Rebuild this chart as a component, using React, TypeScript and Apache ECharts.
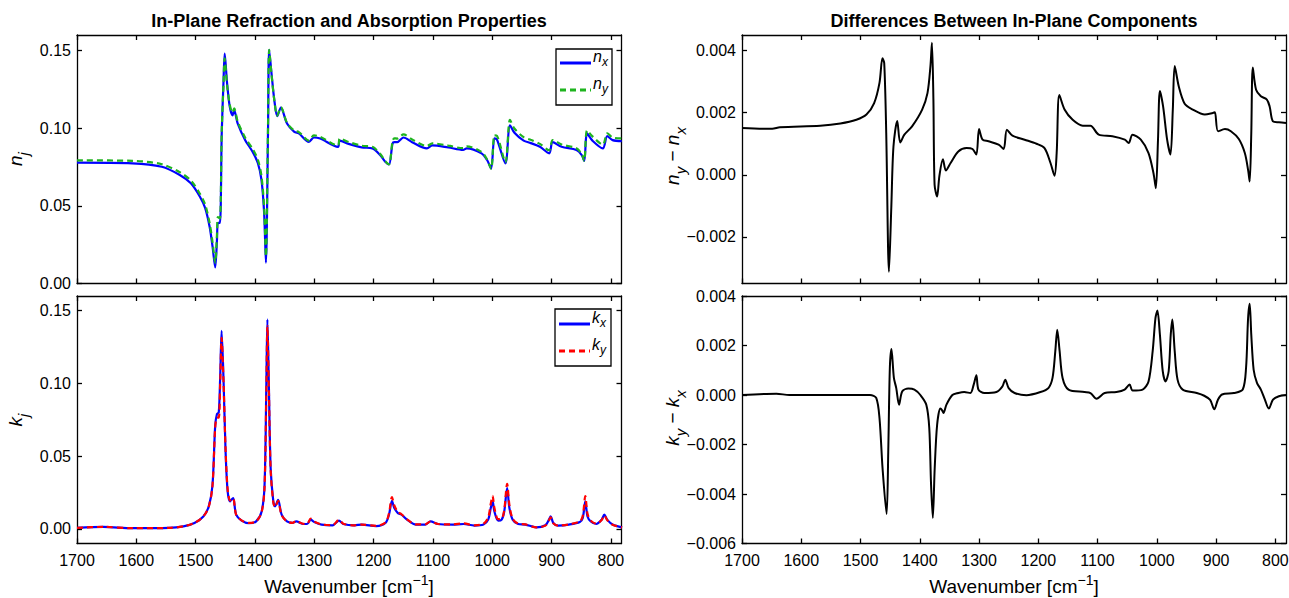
import React, { useEffect, useRef } from "react";
import * as echarts from "echarts";

const FONT = '"Liberation Sans", Arial, Helvetica, sans-serif';

// ---- Top-left: refractive index n_x, n_y
const nWave = [1700, 1606.5, 1557, 1526.7, 1508, 1493, 1484, 1476.5, 1471.5, 1467, 1464, 1462.5, 1459, 1456, 1453, 1451, 1447, 1442.4, 1437.8, 1435, 1429, 1416.4, 1404, 1395, 1389, 1384.5, 1381.5, 1378, 1376, 1372, 1367.3, 1362.4, 1356.3, 1345.9, 1333.6, 1326, 1309, 1300.6, 1290, 1260, 1257, 1242, 1220, 1202, 1189, 1180.3, 1174, 1168, 1165, 1160, 1149.6, 1135, 1110, 1101, 1074, 1049, 1043, 1018, 1008.6, 1001.8, 996.3, 992, 977.8, 970, 962.5, 947, 935, 919.5, 904, 898, 883, 858, 849, 844.8, 840, 831, 813.5, 806, 797, 781.6];
const nxVals = [0.0778, 0.0774, 0.0752, 0.0699, 0.0645, 0.056, 0.0487, 0.0367, 0.0239, 0.0103, 0.0282, 0.039, 0.039, 0.0966, 0.13, 0.148, 0.129, 0.1137, 0.1083, 0.1115, 0.103, 0.0923, 0.0848, 0.0774, 0.0667, 0.0455, 0.0134, 0.0966, 0.1504, 0.135, 0.118, 0.1077, 0.1133, 0.103, 0.0976, 0.0967, 0.0912, 0.094, 0.0933, 0.088, 0.092, 0.0899, 0.0876, 0.087, 0.0827, 0.0784, 0.0767, 0.0902, 0.091, 0.091, 0.094, 0.091, 0.087, 0.0889, 0.0876, 0.086, 0.087, 0.0838, 0.0795, 0.0742, 0.0934, 0.0927, 0.0774, 0.1019, 0.097, 0.092, 0.0904, 0.088, 0.0838, 0.091, 0.088, 0.086, 0.0827, 0.079, 0.0966, 0.092, 0.087, 0.0949, 0.0923, 0.0917];
const nyVals = [0.0793, 0.079, 0.0768, 0.0716, 0.0663, 0.0579, 0.0509, 0.0391, 0.0266, 0.0135, 0.0319, 0.0427, 0.042, 0.0978, 0.128, 0.145, 0.1281, 0.1149, 0.11, 0.1127, 0.1042, 0.0938, 0.0867, 0.0796, 0.0692, 0.0485, 0.0174, 0.1001, 0.1504, 0.1344, 0.1179, 0.1081, 0.1135, 0.1034, 0.0984, 0.0975, 0.092, 0.0954, 0.0944, 0.0889, 0.0933, 0.0911, 0.0887, 0.088, 0.0835, 0.0788, 0.0767, 0.0917, 0.0935, 0.0933, 0.096, 0.0927, 0.0885, 0.0902, 0.0888, 0.0871, 0.0883, 0.0847, 0.0798, 0.0738, 0.0954, 0.0951, 0.0781, 0.1053, 0.0998, 0.0942, 0.0925, 0.0899, 0.0858, 0.0924, 0.0895, 0.0871, 0.0833, 0.0789, 0.0986, 0.0947, 0.0894, 0.0967, 0.094, 0.0934];

// ---- Bottom-left: absorption index k_x, k_y
const kWave = [1700, 1655.6, 1606.5, 1545, 1520.6, 1502, 1487, 1477.8, 1471.6, 1467, 1464, 1461, 1458.7, 1456.2, 1453, 1449.5, 1446, 1442, 1439.8, 1436.6, 1431.7, 1422.5, 1410.2, 1398, 1388.7, 1383.8, 1380.8, 1379, 1376.5, 1373.5, 1369, 1366, 1361, 1355, 1346, 1336.6, 1330.5, 1318, 1312, 1306, 1300, 1287.6, 1269, 1258.4, 1251, 1232.3, 1220, 1195.6, 1180, 1174, 1169, 1165, 1159, 1153, 1143.6, 1128.3, 1113, 1104, 1091.4, 1067, 1048.4, 1030, 1014.7, 1006.7, 1002.4, 999.4, 996.3, 990, 984, 979.7, 974.8, 971, 965.5, 956.3, 944, 925.7, 910.4, 904.3, 901.3, 897, 889, 870.6, 852.2, 847.3, 843, 839.3, 833.8, 824.6, 815.4, 811, 806.2, 797, 781];
const kxVals = [0.0007, 0.0014, 0.0005, 0.0007, 0.0018, 0.0041, 0.0086, 0.0155, 0.03, 0.071, 0.079, 0.08, 0.103, 0.136, 0.103, 0.053, 0.0257, 0.0189, 0.02, 0.0211, 0.0098, 0.0057, 0.0039, 0.0052, 0.012, 0.03, 0.098, 0.1439, 0.098, 0.0416, 0.0189, 0.0155, 0.02, 0.0098, 0.0052, 0.0041, 0.0052, 0.0034, 0.0034, 0.0064, 0.0048, 0.003, 0.0025, 0.0057, 0.0034, 0.0025, 0.003, 0.002, 0.0041, 0.0098, 0.0193, 0.0143, 0.0109, 0.0098, 0.0064, 0.003, 0.003, 0.0052, 0.0034, 0.003, 0.0034, 0.0023, 0.003, 0.0064, 0.0143, 0.0193, 0.012, 0.0057, 0.0064, 0.012, 0.028, 0.0143, 0.0064, 0.0034, 0.003, 0.0011, 0.0025, 0.0064, 0.0086, 0.0041, 0.0023, 0.003, 0.0048, 0.0075, 0.0189, 0.0086, 0.0052, 0.0034, 0.0064, 0.0098, 0.0064, 0.003, 0.0011];
const kyVals = [0.0007, 0.0014, 0.0005, 0.0007, 0.0018, 0.0041, 0.0086, 0.0154, 0.0295, 0.0698, 0.0765, 0.0765, 0.0985, 0.1312, 0.101, 0.0544, 0.0272, 0.0195, 0.0203, 0.0209, 0.0097, 0.0059, 0.0041, 0.0052, 0.0116, 0.0287, 0.0944, 0.1394, 0.0955, 0.0404, 0.0181, 0.015, 0.0193, 0.0094, 0.0052, 0.0042, 0.0053, 0.0035, 0.0035, 0.0071, 0.005, 0.0031, 0.0026, 0.0062, 0.0036, 0.0025, 0.003, 0.0021, 0.0044, 0.0107, 0.0219, 0.0161, 0.0116, 0.0101, 0.0066, 0.0031, 0.0031, 0.0051, 0.0034, 0.0031, 0.0038, 0.0025, 0.0035, 0.0079, 0.0173, 0.0227, 0.0145, 0.0067, 0.007, 0.013, 0.031, 0.0165, 0.007, 0.0036, 0.0031, 0.0011, 0.0023, 0.0059, 0.008, 0.0039, 0.0023, 0.0031, 0.0052, 0.009, 0.0226, 0.0104, 0.0057, 0.0036, 0.0061, 0.0093, 0.0062, 0.0029, 0.0011];

// ---- Top-right: n_y - n_x
const dnWave = [1700, 1649, 1636, 1568, 1534, 1507, 1490, 1477, 1468, 1463, 1460, 1456.6, 1452, 1448, 1444.4, 1438, 1433, 1426, 1413, 1396, 1387, 1382, 1379.5, 1377, 1375, 1370.7, 1367, 1361, 1356, 1348, 1335, 1321, 1311, 1304.5, 1300, 1294, 1284, 1267, 1258.5, 1253, 1243.6, 1223, 1203, 1189.5, 1179.4, 1172.6, 1169, 1164.5, 1155.7, 1142, 1125, 1112, 1098, 1075, 1054, 1047.5, 1041, 1027, 1014, 1005.6, 1001.6, 998, 994.8, 989.4, 982.6, 977, 973, 969.8, 963, 953, 939.4, 919, 905.5, 902, 896.7, 885, 875, 861.6, 851.5, 846, 843.3, 840.6, 838, 832.5, 824.4, 814.3, 809.6, 804, 794, 782];
const dnVals = [0.00151, 0.00148, 0.00153, 0.00158, 0.00165, 0.00177, 0.00194, 0.00231, 0.00296, 0.00375, 0.0036, 0.00134, -0.00312, -0.00102, 0.00091, 0.00173, 0.00104, 0.00129, 0.00156, 0.0021, 0.00263, 0.0035, 0.00425, 0.00242, -0.00032, -0.0007, -0.00005, 0.0005, 0.00014, 0.00038, 0.00075, 0.00086, 0.00083, 0.00065, 0.00147, 0.00113, 0.00108, 0.00097, 0.00083, 0.00145, 0.00126, 0.00113, 0.001, 0.00086, 0.00038, -0.00003, 0.0007, 0.00257, 0.0021, 0.00177, 0.00158, 0.00158, 0.00129, 0.00124, 0.00113, 0.00102, 0.00129, 0.00113, 0.0007, 0.00005, -0.00043, 0.00113, 0.0027, 0.0022, 0.00113, 0.00065, 0.0021, 0.0035, 0.00285, 0.00229, 0.0021, 0.00194, 0.00199, 0.00201, 0.0014, 0.00147, 0.0014, 0.00115, 0.0007, 0.00016, -0.00022, 0.00134, 0.00345, 0.00274, 0.00253, 0.00242, 0.0022, 0.00172, 0.00169, 0.00167];

// ---- Bottom-right: k_y - k_x
const dkWave = [1700, 1642, 1620, 1484, 1473.5, 1468, 1462.7, 1456, 1453.2, 1450.5, 1447.8, 1443.7, 1439.7, 1435, 1429.5, 1419.4, 1409, 1399, 1389, 1384, 1381, 1378, 1374.8, 1370.7, 1365.3, 1362, 1360, 1355, 1345, 1335, 1325, 1314.6, 1309, 1304.5, 1301, 1291, 1270.7, 1260.5, 1255.8, 1250, 1240, 1220, 1196.3, 1183, 1176, 1171.3, 1168, 1164, 1159, 1149, 1122, 1112, 1101.6, 1088, 1068, 1054.3, 1046, 1040.8, 1024, 1014, 1007, 1002.3, 999, 994.8, 990, 985.3, 980, 976.5, 973.8, 969.8, 965, 956.3, 932.6, 920, 910, 903, 897, 890, 870, 855, 849.4, 846, 843.3, 840.6, 836.6, 831, 824.4, 817.6, 811, 804, 794, 782];
const dkVals = [0, 0.00005, 0, 0, -0.00012, -0.00093, -0.003, -0.00481, -0.0023, 0.0011, 0.00186, 0.00069, 0.00028, -0.00039, 0.00015, 0.00026, 0.00022, 0, -0.00039, -0.00133, -0.0036, -0.00497, -0.00295, -0.0012, -0.00055, -0.00063, -0.00073, -0.00039, 0, 0.00008, 0.00012, 0.00008, 0.00042, 0.0008, 0.00022, 0.00008, 0.00012, 0.00035, 0.00062, 0.00028, 0.00008, -0.00001, 0.00012, 0.00028, 0.00069, 0.00177, 0.00264, 0.00177, 0.00069, 0.00022, 0.00012, 0.00008, -0.00015, 0.00008, 0.00012, 0.00022, 0.00042, 0.00018, 0.00022, 0.00055, 0.00177, 0.00311, 0.00341, 0.00244, 0.00096, 0.00055, 0.00096, 0.00244, 0.00305, 0.00177, 0.00062, 0.00022, 0.00008, -0.00003, -0.0002, -0.00058, -0.0002, 0.00002, 0.00008, 0.00022, 0.0011, 0.0031, 0.00369, 0.00244, 0.00102, 0.00049, 0.00022, -0.00019, -0.00055, -0.00019, -0.00005, 0];

// ---- Tick values
const xTicks = [1700, 1600, 1500, 1400, 1300, 1200, 1100, 1000, 900, 800];
const nTicks = [0, 0.05, 0.1, 0.15];
const kTicks = [0, 0.05, 0.1, 0.15];
const dnTicks = [-0.002, 0, 0.002, 0.004];
const dkTicks = [-0.006, -0.004, -0.002, 0, 0.002, 0.004];

const X_MIN = 782;
const X_MAX = 1700;

const zip = (xs: number[], ys: number[]) => xs.map((x, i) => [x, ys[i]]);

const lineCol = "#000";
const axW = 1.3;
const BLUE = "#0000ff";
const GREEN = "#1fb41f";
const RED = "#ff0000";

function xAxis(grid: number, pos: "bottom" | "top", labels: boolean) {
  return {
    type: "value",
    gridIndex: grid,
    position: pos,
    min: X_MIN,
    max: X_MAX,
    inverse: true,
    axisLine: { show: true, onZero: false, lineStyle: { color: lineCol, width: axW } },
    axisTick: { show: true, inside: true, length: 5, customValues: xTicks, lineStyle: { color: lineCol, width: axW } },
    axisLabel: {
      show: labels,
      customValues: xTicks,
      color: "#000",
      fontSize: 16,
      fontFamily: FONT,
      margin: 9,
      formatter: (v: number) => String(v),
    },
    splitLine: { show: false },
  };
}

function yAxis(grid: number, pos: "left" | "right", labels: boolean, min: number, max: number, ticks: number[], dec: number) {
  return {
    type: "value",
    gridIndex: grid,
    position: pos,
    min,
    max,
    axisLine: { show: true, onZero: false, lineStyle: { color: lineCol, width: axW } },
    axisTick: { show: true, inside: true, length: 5, customValues: ticks, lineStyle: { color: lineCol, width: axW } },
    axisLabel: {
      show: labels,
      customValues: ticks,
      color: "#000",
      fontSize: 16,
      fontFamily: FONT,
      margin: 6,
      formatter: (v: number) => (v < -1e-12 ? "\u2212" : "") + Math.abs(v).toFixed(dec),
    },
    splitLine: { show: false },
  };
}

const richSub = {
  i: { fontSize: 19, fontStyle: "italic", fontFamily: FONT, color: "#000", lineHeight: 26, verticalAlign: "top" },
  s: { fontSize: 15, fontStyle: "italic", fontFamily: FONT, color: "#000", lineHeight: 26, verticalAlign: "top", padding: [10, 0, 0, 0] },
  m: { fontSize: 19, fontFamily: FONT, color: "#000", lineHeight: 26, verticalAlign: "top" },
};

const richSup = {
  a: { fontSize: 19, fontFamily: FONT, color: "#000", lineHeight: 22, verticalAlign: "bottom" },
  p: { fontSize: 14, fontFamily: FONT, color: "#000", lineHeight: 22, verticalAlign: "bottom", padding: [0, 0, 9, 0] },
};

const legendRich = {
  i: { fontSize: 16, fontStyle: "italic", fontFamily: FONT, color: "#000", lineHeight: 20, verticalAlign: "top" },
  s: { fontSize: 12, fontStyle: "italic", fontFamily: FONT, color: "#000", lineHeight: 20, verticalAlign: "top", padding: [8, 0, 0, 0] },
};

// Legend boxes drawn as graphics (line samples + labels)
function legendBox(x: number, y: number, w: number, h: number, items: { label: string; color: string; dash: number[] | null; dy: number }[]) {
  const els: any[] = [
    { type: "rect", z: 100, shape: { x, y, width: w, height: h }, style: { fill: "#fff", stroke: "#000", lineWidth: 1.3 } },
  ];
  items.forEach((it) => {
    els.push({
      type: "line",
      z: 101,
      shape: { x1: x + 4, y1: y + it.dy, x2: x + 35, y2: y + it.dy },
      style: { stroke: it.color, lineWidth: 3, lineDash: it.dash || undefined },
    });
    els.push({
      type: "text",
      z: 101,
      x: x + 37,
      y: y + it.dy - 5,
      style: { text: it.label, rich: legendRich, align: "left", verticalAlign: "middle" },
    });
  });
  return els;
}

export default function App() {
  const ref = useRef<HTMLDivElement>(null);
  useEffect(() => {
    if (!ref.current) return;
    const chart = echarts.init(ref.current, null, { renderer: "svg" });
    const grids = [
      { left: 77, top: 35, width: 544.5, height: 248.5, outerBoundsMode: "none", containLabel: false },
      { left: 77, top: 296, width: 544.5, height: 247.5, outerBoundsMode: "none", containLabel: false },
      { left: 742, top: 35, width: 544, height: 248.5, outerBoundsMode: "none", containLabel: false },
      { left: 742, top: 296, width: 544, height: 247.5, outerBoundsMode: "none", containLabel: false },
    ];
    const option: any = {
      animation: false,
      backgroundColor: "#fff",
      textStyle: { fontFamily: FONT },
      grid: grids,
      xAxis: [
        xAxis(0, "bottom", false), xAxis(0, "top", false),
        xAxis(1, "bottom", true), xAxis(1, "top", false),
        xAxis(2, "bottom", false), xAxis(2, "top", false),
        xAxis(3, "bottom", true), xAxis(3, "top", false),
      ],
      yAxis: [
        yAxis(0, "left", true, 0, 0.16, nTicks, 2), yAxis(0, "right", false, 0, 0.16, nTicks, 2),
        yAxis(1, "left", true, -0.01, 0.16, kTicks, 2), yAxis(1, "right", false, -0.01, 0.16, kTicks, 2),
        yAxis(2, "left", true, -0.0035, 0.0045, dnTicks, 3), yAxis(2, "right", false, -0.0035, 0.0045, dnTicks, 3),
        yAxis(3, "left", true, -0.006, 0.004, dkTicks, 3), yAxis(3, "right", false, -0.006, 0.004, dkTicks, 3),
      ],
      series: [
        { name: "nx", type: "line", xAxisIndex: 0, yAxisIndex: 0, data: zip(nWave, nxVals), symbol: "none", smooth: 0.3, lineStyle: { color: BLUE, width: 2.2 }, itemStyle: { color: BLUE }, z: 2 },
        { name: "ny", type: "line", xAxisIndex: 0, yAxisIndex: 0, data: zip(nWave, nyVals), symbol: "none", smooth: 0.3, lineStyle: { color: GREEN, width: 2.2, type: [6, 4] }, itemStyle: { color: GREEN }, z: 3 },
        { name: "kx", type: "line", xAxisIndex: 2, yAxisIndex: 2, data: zip(kWave, kxVals), symbol: "none", smooth: 0.3, lineStyle: { color: BLUE, width: 2.2 }, itemStyle: { color: BLUE }, z: 2 },
        { name: "ky", type: "line", xAxisIndex: 2, yAxisIndex: 2, data: zip(kWave, kyVals), symbol: "none", smooth: 0.3, lineStyle: { color: RED, width: 2.2, type: [6, 4] }, itemStyle: { color: RED }, z: 3 },
        { name: "dn", type: "line", xAxisIndex: 4, yAxisIndex: 4, data: zip(dnWave, dnVals), symbol: "none", smooth: 0.3, lineStyle: { color: "#000", width: 2 }, itemStyle: { color: "#000" } },
        { name: "dk", type: "line", xAxisIndex: 6, yAxisIndex: 6, data: zip(dkWave, dkVals), symbol: "none", smooth: 0.3, lineStyle: { color: "#000", width: 2 }, itemStyle: { color: "#000" } },
      ],
      graphic: [
        { type: "text", x: 349, y: 21, style: { text: "In-Plane Refraction and Absorption Properties", font: `bold 18px ${FONT}`, fill: "#000", align: "center", verticalAlign: "middle" } },
        { type: "text", x: 1014, y: 21, style: { text: "Differences Between In-Plane Components", font: `bold 18px ${FONT}`, fill: "#000", align: "center", verticalAlign: "middle" } },
        { type: "text", x: 349, y: 585, style: { text: "{a|Wavenumber [cm}{p|\u22121}{a|]}", rich: richSup, align: "center", verticalAlign: "middle" } },
        { type: "text", x: 1014, y: 585, style: { text: "{a|Wavenumber [cm}{p|\u22121}{a|]}", rich: richSup, align: "center", verticalAlign: "middle" } },
        { type: "text", x: 19, y: 159, rotation: Math.PI / 2, style: { text: "{i|n}{s|j}", rich: richSub, align: "center", verticalAlign: "middle" } },
        { type: "text", x: 19, y: 420, rotation: Math.PI / 2, style: { text: "{i|k}{s|j}", rich: richSub, align: "center", verticalAlign: "middle" } },
        { type: "text", x: 676, y: 156, rotation: Math.PI / 2, style: { text: "{i|n}{s|y}{m| \u2212 }{i|n}{s|x}", rich: richSub, align: "center", verticalAlign: "middle" } },
        { type: "text", x: 676, y: 418, rotation: Math.PI / 2, style: { text: "{i|k}{s|y}{m| \u2212 }{i|k}{s|x}", rich: richSub, align: "center", verticalAlign: "middle" } },
        ...legendBox(556, 49, 56, 56, [
          { label: "{i|n}{s|x}", color: BLUE, dash: null, dy: 14 },
          { label: "{i|n}{s|y}", color: GREEN, dash: [6, 4], dy: 41 },
        ]),
        ...legendBox(555, 309, 56, 57, [
          { label: "{i|k}{s|x}", color: BLUE, dash: null, dy: 15 },
          { label: "{i|k}{s|y}", color: RED, dash: [6, 4], dy: 42 },
        ]),
      ],
    };
    chart.setOption(option);
    return () => chart.dispose();
  }, []);
  return (
    <div
      ref={ref}
      style={{ position: "absolute", left: 0, top: 0, width: 1289, height: 598, background: "#fff" }}
    />
  );
}
